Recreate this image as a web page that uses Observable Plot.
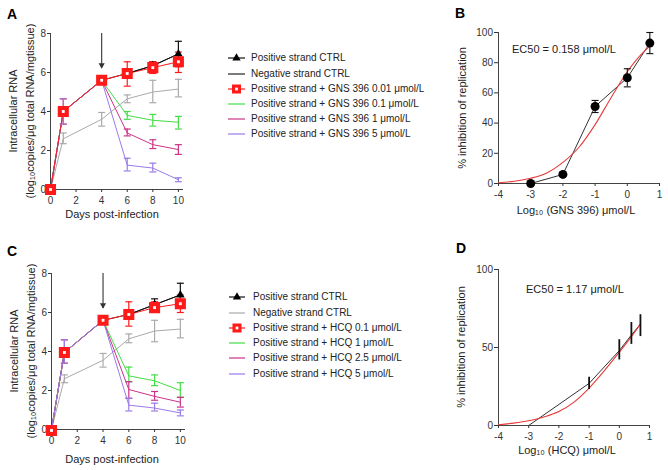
<!DOCTYPE html>
<html><head><meta charset="utf-8">
<script src="https://cdn.jsdelivr.net/npm/d3@7"></script>
<script src="https://cdn.jsdelivr.net/npm/@observablehq/plot@0.6"></script>
<style>
body{margin:0;background:#fff}
#root{position:relative;width:668px;height:470px;overflow:hidden;background:#fff;font-family:'Liberation Sans',Arial,sans-serif}
</style>
</head><body><div id="root"></div>
<script>
const N = null;
// ---------- shared ticks ----------
const days = [0, 1, 4, 6, 8, 10];
const timeTicksX = [0, 2, 4, 6, 8, 10];
const timeTicksY = [0, 2, 4, 6, 8];
const doseTicksX = [-4, -3, -2, -1, 0, 1];
const bTicksY = [0, 20, 40, 60, 80, 100];
const dTicksY = [0, 50, 100];

// ---------- Panel A (GNS 396) ----------
const aPosCtrl   = [0, 4.0, 5.6, 5.95, 6.35, 6.95];
const aPosCtrlLo = [N, N, N, N, 6.15, 6.3];
const aPosCtrlHi = [N, N, N, N, 6.55, 7.6];
const aNegCtrl   = [0, 2.6, 3.6, 4.65, 5.0, 5.15];
const aNegCtrlLo = [N, 2.35, 3.25, 4.45, 4.45, 4.75];
const aNegCtrlHi = [N, 2.9, 3.95, 4.85, 5.6, 5.65];
const aGns001    = [0, 4.0, 5.6, 5.95, 6.25, 6.55];
const aGns001Lo  = [N, 3.35, N, 5.3, 5.95, 6.0];
const aGns001Hi  = [N, 4.65, N, 6.55, 6.55, 7.05];
const aGns01     = [0, 4.0, 5.6, 3.8, 3.55, 3.45];
const aGns01Lo   = [N, N, N, 3.6, 3.25, 3.1];
const aGns01Hi   = [N, N, N, 4.0, 3.85, 3.75];
const aGns1      = [0, 4.0, 5.6, 2.9, 2.3, 2.05];
const aGns1Lo    = [N, N, N, 2.75, 2.1, 1.8];
const aGns1Hi    = [N, N, N, 3.1, 2.55, 2.3];
const aGns5      = [0, 4.0, 5.6, 1.25, 1.1, 0.5];
const aGns5Lo    = [N, 3.35, N, 0.95, 0.9, 0.4];
const aGns5Hi    = [N, 4.65, N, 1.6, 1.35, 0.6];
const aLegend = ["Positive strand CTRL", "Negative strand CTRL",
  "Positive strand + GNS 396 0.01 \u03bcmol/L", "Positive strand + GNS 396 0.1 \u03bcmol/L",
  "Positive strand + GNS 396 1 \u03bcmol/L", "Positive strand + GNS 396 5 \u03bcmol/L"];

// ---------- Panel C (HCQ) ----------
const cPosCtrl   = [0, 3.95, 5.6, 5.9, 6.4, 6.9];
const cPosCtrlLo = [N, N, N, N, 6.15, 6.3];
const cPosCtrlHi = [N, N, N, N, 6.7, 7.5];
const cNegCtrl   = [0, 2.6, 3.55, 4.65, 5.05, 5.15];
const cNegCtrlLo = [N, 2.4, 3.2, 4.45, 4.5, 4.7];
const cNegCtrlHi = [N, 2.8, 3.9, 4.9, 5.6, 5.65];
const cHcq01     = [-0.05, 3.95, 5.6, 5.9, 6.25, 6.45];
const cHcq01Lo   = [N, 3.4, N, 5.3, 6.05, 6.0];
const cHcq01Hi   = [N, 4.6, N, 6.55, 6.55, 6.9];
const cHcq1      = [0, 3.95, 5.6, 2.75, 2.5, 2.0];
const cHcq1Lo    = [N, N, N, 2.45, 2.25, 1.65];
const cHcq1Hi    = [N, N, N, 3.2, 2.8, 2.4];
const cHcq25     = [0, 3.95, 5.6, 2.05, 1.7, 1.4];
const cHcq25Lo   = [N, N, N, 1.6, 1.5, 1.15];
const cHcq25Hi   = [N, N, N, 2.45, 1.95, 1.65];
const cHcq5      = [0, 3.95, 5.6, 1.25, 1.1, 0.85];
const cHcq5Lo    = [N, 3.4, N, 0.95, 0.95, 0.7];
const cHcq5Hi    = [N, 4.6, N, 1.6, 1.35, 1.0];
const cLegend = ["Positive strand CTRL", "Negative strand CTRL",
  "Positive strand + HCQ 0.1 \u03bcmol/L", "Positive strand + HCQ 1 \u03bcmol/L",
  "Positive strand + HCQ 2.5 \u03bcmol/L", "Positive strand + HCQ 5 \u03bcmol/L"];

// treatment start arrow (day, from, to)
const arrowDay = [4];
const arrowTop = [8.0];
const arrowTip = [6.2];

// ---------- Panel B (GNS 396 dose response) ----------
const bLogDose = [-3, -2, -1, 0, 0.7];
const bInhib   = [0, 6, 51, 70, 93];
const bInhibLo = [N, N, 47, 64, 86];
const bInhibHi = [N, N, 55, 76, 100];
const bFitX = [-4, -3.5, -3, -2.5, -2, -1.5, -1, -0.5, 0, 0.5, 0.7];
const bFitY = [0.5, 1.5, 3.5, 7, 14, 24, 39, 57, 74, 87, 91];
const bEC50 = "EC50 = 0.158 \u03bcmol/L";

// ---------- Panel D (HCQ dose response) ----------
const dLogDose = [-3, -1, 0, 0.4, 0.7];
const dInhib   = [0, 27, 48, 58, 65];
const dInhibLo = [N, 23, 42, 52, 57];
const dInhibHi = [N, 31, 55, 66, 71];
const dFitX = [-4, -3.5, -3, -2.5, -2, -1.5, -1, -0.5, 0, 0.4, 0.7];
const dFitY = [0.5, 1.5, 3, 5.5, 9, 15, 24, 35, 47, 57, 65];
const dEC50 = "EC50 = 1.17 \u03bcmol/L";

// colours: pos ctrl, neg ctrl, red, green, magenta, purple
const colPos = "#111111", colNeg = "#aaaaaa", colRed = "#ff1a1a",
      colGreen = "#44dd44", colMag = "#cc3388", colPur = "#9a7be8";

const FONT = "'Liberation Sans', Arial, sans-serif";
const root = document.getElementById("root");

const cap = {draw(ctx, size) { const w = Math.sqrt(size / Math.PI); ctx.moveTo(-w, 0); ctx.lineTo(w, 0); }};
const plainFmt = d => String(d);

function rows(xs, y, lo, hi) { return xs.map((x, i) => ({x, v: y[i], lo: lo ? lo[i] : N, hi: hi ? hi[i] : N})); }

function errMarks(data, color, capR, sw) {
  const e = data.filter(d => d.lo != null && d.hi != null);
  const m = [Plot.ruleX(e, {x: "x", y1: "lo", y2: "hi", stroke: color, strokeWidth: sw})];
  if (capR > 0) {
    m.push(Plot.dot(e, {x: "x", y: "lo", symbol: cap, r: capR, stroke: color, strokeWidth: sw, fill: "none"}));
    m.push(Plot.dot(e, {x: "x", y: "hi", symbol: cap, r: capR, stroke: color, strokeWidth: sw, fill: "none"}));
  }
  return m;
}

function place(el, left, top) {
  const w = document.createElement("div");
  w.style.cssText = `position:absolute;left:${left}px;top:${top}px;`;
  w.appendChild(el);
  root.appendChild(w);
}

const plotStyle = {fontFamily: FONT, fontSize: "10px", color: "#333", background: "transparent", overflow: "visible"};

function timePanel(o) {
  const S = o.series; // {pos, neg, red, t1, t2, t3}
  const arrowRows = arrowDay.map((d, i) => ({x: d, top: arrowTop[i], tip: arrowTip[i]}));
  const line = (s, c) => Plot.line(s, {x: "x", y: "v", stroke: c, strokeWidth: 1});
  const lineMarks = o.redOnTop
    ? [line(S.neg, colNeg), line(S.pos, colPos), line(S.t1, colGreen), line(S.t2, colMag), line(S.t3, colPur), line(S.red, colRed), line(S.pos.slice(3), colPos)]
    : [line(S.neg, colNeg), line(S.pos, colPos), line(S.red, colRed), line(S.t1, colGreen), line(S.t2, colMag), line(S.t3, colPur), line(S.pos.slice(3), colPos)];
  return Plot.plot({
    width: o.width, height: o.height,
    marginLeft: o.ml, marginRight: o.mr, marginTop: o.mt, marginBottom: o.mb,
    x: {domain: [0, 10.4]}, y: {domain: [0, 8]},
    style: plotStyle,
    marks: [
      Plot.ruleY([0], {stroke: "#444"}),
      Plot.ruleX([0], {stroke: "#444"}),
      Plot.axisX(timeTicksX, {tickSize: 3, tickPadding: 4, label: null, tickFormat: plainFmt}),
      Plot.axisY(timeTicksY, {tickSize: 3, tickPadding: 1.5, label: null, tickFormat: plainFmt}),
      Plot.ruleX(arrowRows, {x: "x", y1: "top", y2: "tip", stroke: "#444", strokeWidth: 1.2}),
      Plot.dot(arrowRows, {x: "x", y: "tip", symbol: "triangle", rotate: 180, r: 2.3, fill: "#333", dy: -3.5}),
      ...lineMarks,
      ...errMarks(S.neg, colNeg, 3.5, 1.2),
      ...errMarks(S.pos, colPos, 3.5, 1.2),
      ...errMarks(S.red, colRed, 3.5, 1.2),
      ...errMarks(S.t1, colGreen, 3.5, 1.2),
      ...errMarks(S.t2, colMag, 3.5, 1.2),
      ...errMarks(S.t3, colPur, 3.5, 1.2),
      Plot.dot(S.pos, {x: "x", y: "v", symbol: "triangle", r: 3.2, fill: "#000"}),
      Plot.dot(S.red, {x: "x", y: "v", symbol: "square", r: 5.4, fill: colRed, stroke: colRed}),
      Plot.dot(S.red, {x: "x", y: "v", symbol: "square", r: 1.6, fill: "#fff"})
    ]
  });
}

function dosePanel(o) {
  return Plot.plot({
    width: o.width, height: o.height,
    marginLeft: o.ml, marginRight: o.mr, marginTop: o.mt, marginBottom: o.mb,
    x: {domain: [-4, 1]}, y: {domain: [0, 100]},
    style: plotStyle,
    marks: [
      Plot.ruleY([0], {stroke: "#444"}),
      Plot.ruleX([-4], {stroke: "#444"}),
      Plot.axisX(doseTicksX, {tickSize: 3, tickPadding: 4, label: null, tickFormat: plainFmt}),
      Plot.axisY(o.yTicks, {tickSize: 4, tickPadding: 1.5, label: null, tickFormat: plainFmt}),
      Plot.line(o.pts, {x: "x", y: "v", stroke: "#333", strokeWidth: 1}),
      Plot.line(o.fit, {x: "x", y: "v", stroke: "#e83a3a", strokeWidth: 1.1, curve: "monotone-x"}),
      ...errMarks(o.pts, "#111", o.capR, o.errW),
      ...(o.dots ? [Plot.dot(o.pts, {x: "x", y: "v", r: 4.5, fill: "#000"})] : [])
    ]
  });
}

// ---------- build panels ----------
const A = timePanel({
  width: 200, height: 225, ml: 50, mr: 17, mt: 33, mb: 36, redOnTop: true,
  series: {
    pos: rows(days, aPosCtrl, aPosCtrlLo, aPosCtrlHi),
    neg: rows(days, aNegCtrl, aNegCtrlLo, aNegCtrlHi),
    red: rows(days, aGns001, aGns001Lo, aGns001Hi),
    t1: rows(days, aGns01, aGns01Lo, aGns01Hi),
    t2: rows(days, aGns1, aGns1Lo, aGns1Hi),
    t3: rows(days, aGns5, aGns5Lo, aGns5Hi)
  }
});
place(A, 0, 0);

const C = timePanel({
  width: 200, height: 230, ml: 51, mr: 15, mt: 33, mb: 41, redOnTop: false,
  series: {
    pos: rows(days, cPosCtrl, cPosCtrlLo, cPosCtrlHi),
    neg: rows(days, cNegCtrl, cNegCtrlLo, cNegCtrlHi),
    red: rows(days, cHcq01, cHcq01Lo, cHcq01Hi),
    t1: rows(days, cHcq1, cHcq1Lo, cHcq1Hi),
    t2: rows(days, cHcq25, cHcq25Lo, cHcq25Hi),
    t3: rows(days, cHcq5, cHcq5Lo, cHcq5Hi)
  }
});
place(C, 0, 240);

const B = dosePanel({
  width: 248, height: 225, ml: 78, mr: 9, mt: 32, mb: 42, yTicks: bTicksY,
  pts: rows(bLogDose, bInhib, bInhibLo, bInhibHi), fit: rows(bFitX, bFitY),
  capR: 3.5, errW: 1.1, dots: true
});
place(B, 420, 0);

const D = dosePanel({
  width: 248, height: 230, ml: 78, mr: 19, mt: 29, mb: 45, yTicks: dTicksY,
  pts: rows(dLogDose, dInhib, dInhibLo, dInhibHi), fit: rows(dFitX, dFitY),
  capR: 0, errW: 1.8, dots: false
});
place(D, 420, 240);

// ---------- overlay: titles, letters, legends ----------
const ov = d3.create("svg").attr("width", 668).attr("height", 470)
  .style("position", "absolute").style("left", "0").style("top", "0")
  .style("font-family", FONT).style("pointer-events", "none");

function txt(x, y, s, o = {}) {
  const t = ov.append("text").attr("x", x).attr("y", y)
    .attr("font-size", o.size || 11).attr("fill", o.fill || "#222")
    .attr("text-anchor", o.anchor || "middle").attr("dominant-baseline", o.baseline || "middle")
    .attr("font-weight", o.weight || "normal").text(s);
  if (o.rotate) t.attr("transform", `rotate(${o.rotate},${x},${y})`);
  return t;
}

// panel letters
txt(7, 19, "A", {size: 14, weight: "bold", anchor: "start", baseline: "auto", fill: "#000"});
txt(455, 18, "B", {size: 14, weight: "bold", anchor: "start", baseline: "auto", fill: "#000"});
txt(7, 256, "C", {size: 14, weight: "bold", anchor: "start", baseline: "auto", fill: "#000"});
txt(456, 253, "D", {size: 14, weight: "bold", anchor: "start", baseline: "auto", fill: "#000"});

// axis titles A / C
txt(14, 111, "Intracellular RNA", {rotate: -90});
txt(31, 111, "(log\u2081\u2080copies/\u03bcg total RNA/mgtissue)", {rotate: -90});
txt(112, 215, "Days post-infection");
txt(15, 351, "Intracellular RNA", {rotate: -90});
txt(32, 351, "(log\u2081\u2080copies/\u03bcg total RNA/mgtissue)", {rotate: -90});
txt(112, 460, "Days post-infection");

// axis titles B / D
txt(463, 108, "% inhibition of replication", {rotate: -90});
txt(576, 211, "Log\u2081\u2080 (GNS 396) \u03bcmol/L");
txt(512, 50, bEC50, {anchor: "start"});
txt(462, 347, "% inhibition of replication", {rotate: -90});
txt(567, 451, "Log\u2081\u2080 (HCQ) \u03bcmol/L");
txt(526, 290, dEC50, {anchor: "start"});

// legends
function legend(ys, x1, x2, tx, labels, colors) {
  ys.forEach((y, i) => {
    ov.append("line").attr("x1", x1).attr("x2", x2).attr("y1", y).attr("y2", y)
      .attr("stroke", colors[i]).attr("stroke-width", 1.2);
    const cx = (x1 + x2) / 2;
    if (i === 0) {
      ov.append("path").attr("d", d3.symbol(d3.symbolTriangle, 30)()).attr("transform", `translate(${cx},${y})`).attr("fill", "#000");
    }
    if (i === 2) {
      ov.append("rect").attr("x", cx - 4.5).attr("y", y - 4.5).attr("width", 9).attr("height", 9).attr("fill", colRed);
      ov.append("rect").attr("x", cx - 1.4).attr("y", y - 1.4).attr("width", 2.8).attr("height", 2.8).attr("fill", "#fff");
    }
    txt(tx, y, labels[i], {size: 10, anchor: "start"});
  });
}
legend([58, 74, 89, 104, 119, 134], 228, 245, 251, aLegend, [colPos, "#222", colRed, colGreen, colMag, colPur]);
legend([297, 313, 328, 343, 358, 374], 229, 245, 253, cLegend, [colPos, colNeg, colRed, colGreen, colMag, colPur]);

root.appendChild(ov.node());
</script></body></html>
